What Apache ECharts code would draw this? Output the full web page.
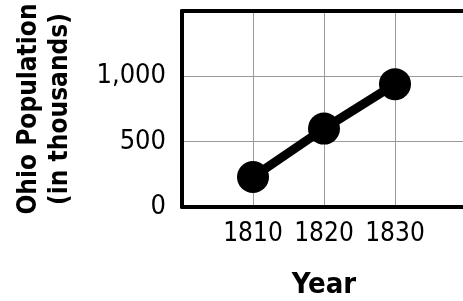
<!DOCTYPE html>
<html>
<head>
<meta charset="utf-8">
<script src="https://cdn.jsdelivr.net/npm/echarts@6/dist/echarts.min.js"></script>
<style>html,body{margin:0;padding:0;background:#fff;}#c{width:463px;height:301px;}</style>
</head>
<body>
<div id="c"></div>
<script>
var years = [1810, 1820, 1830];
var population = [230, 600, 940];
var yTicks = [0, 500, 1000];
var xTicks = [1810, 1820, 1830];

var chart = echarts.init(document.getElementById('c'), null, {renderer: 'canvas'});
var font = "'Liberation Sans Narrow', 'DejaVu Sans Condensed', sans-serif";
var border = {show: true, onZero: false, lineStyle: {color: '#000', width: 4}};
chart.setOption({
  animation: false,
  grid: {left: 182, top: 11, right: -3, bottom: 94, show: false, outerBoundsMode: 'none', containLabel: false},
  xAxis: [{
    type: 'value', min: 1800, max: 1840, interval: 10,
    axisLine: border, axisTick: {show: false},
    splitLine: {show: true, lineStyle: {color: '#9a9a9a', width: 1}},
    axisLabel: {
      margin: 14, color: '#000', fontSize: 26, fontFamily: font,
      formatter: function (v) { return xTicks.indexOf(v) >= 0 ? String(v) : ''; }
    },
    name: 'Year', nameLocation: 'middle', nameGap: 64,
    nameTextStyle: {color: '#000', fontSize: 29, fontWeight: 'bold', fontFamily: font}
  }, {
    type: 'value', position: 'top', min: 1800, max: 1840, interval: 10,
    axisLine: border, axisTick: {show: false}, axisLabel: {show: false}, splitLine: {show: false}
  }],
  yAxis: {
    type: 'value', min: 0, max: 1500, interval: 500,
    axisLine: border, axisTick: {show: false},
    splitLine: {show: true, lineStyle: {color: '#9a9a9a', width: 1}},
    axisLabel: {
      margin: 16, color: '#000', fontSize: 27, fontFamily: font,
      formatter: function (v) { return yTicks.indexOf(v) >= 0 ? v.toLocaleString('en-US') : ''; }
    },
    name: 'Ohio Population\n(in thousands)', nameLocation: 'middle', nameGap: 106, nameRotate: 90,
    nameTextStyle: {color: '#000', fontSize: 26, fontWeight: 'bold', fontFamily: font, lineHeight: 31, align: 'center'}
  },
  series: [{
    type: 'line',
    xAxisIndex: 0,
    data: years.map(function (y, i) { return [y, population[i]]; }),
    symbol: 'circle', symbolSize: 32,
    itemStyle: {color: '#000'},
    lineStyle: {color: '#000', width: 9}
  }]
});
</script>
</body>
</html>
